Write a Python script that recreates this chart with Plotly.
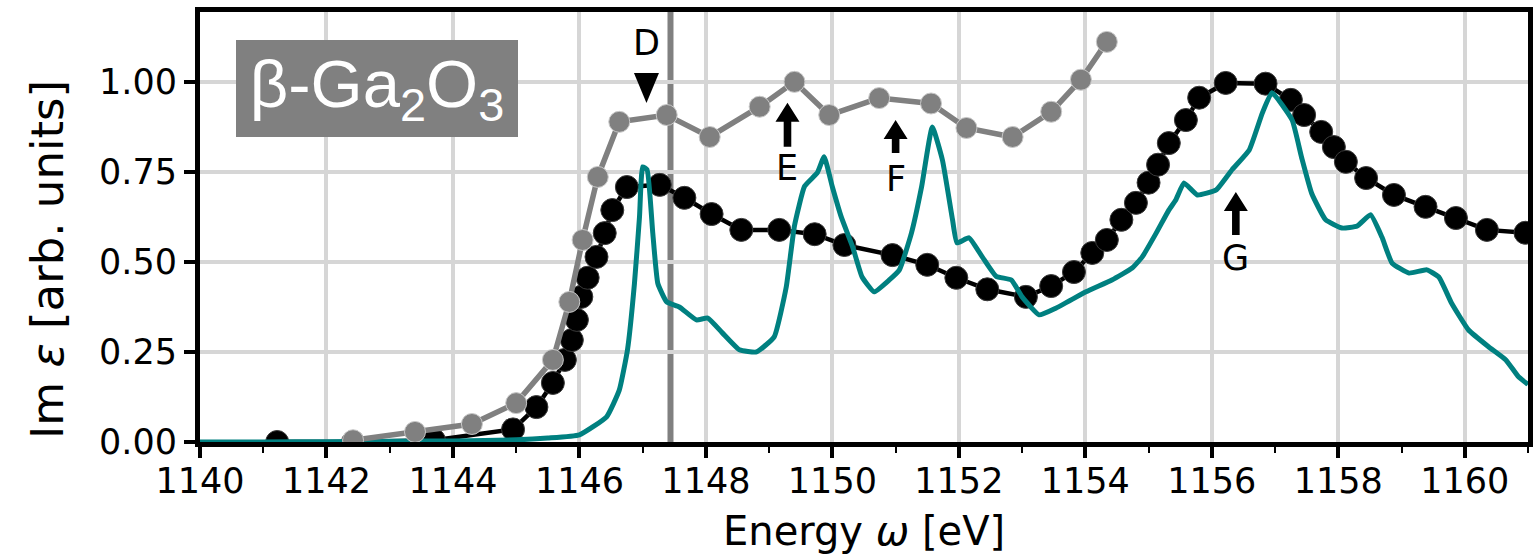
import plotly.graph_objects as go

# Measured spectrum (black), second measured spectrum (gray), calculated spectrum (teal)
black_energy = [1141.22, 1142.42, 1143.70, 1144.95, 1145.32, 1145.58, 1145.77, 1145.88,
                1145.96, 1146.03, 1146.13, 1146.27, 1146.40, 1146.52, 1146.75, 1147.27,
                1147.66, 1148.09, 1148.56, 1149.16, 1149.72, 1150.19, 1150.95, 1151.50,
                1151.96, 1152.45, 1153.06, 1153.46, 1153.82, 1154.11, 1154.34, 1154.57,
                1154.80, 1155.00, 1155.15, 1155.32, 1155.59, 1155.80, 1156.22, 1156.85,
                1157.25, 1157.46, 1157.73, 1157.93, 1158.12, 1158.44, 1158.88, 1159.38,
                1159.86, 1160.35, 1160.96]
black_imeps = [0.000, 0.000, 0.005, 0.035, 0.097, 0.164, 0.228, 0.283,
               0.339, 0.403, 0.456, 0.514, 0.580, 0.644, 0.708, 0.714,
               0.678, 0.633, 0.589, 0.589, 0.577, 0.547, 0.519, 0.492,
               0.456, 0.424, 0.403, 0.433, 0.472, 0.525, 0.561, 0.617,
               0.664, 0.720, 0.770, 0.830, 0.894, 0.956, 0.997, 0.995,
               0.950, 0.908, 0.861, 0.819, 0.778, 0.733, 0.686, 0.653,
               0.622, 0.589, 0.581]

gray_energy = [1142.42, 1143.40, 1144.30, 1145.00, 1145.58, 1145.84, 1146.05, 1146.29,
               1146.63, 1147.38, 1148.06, 1148.85, 1149.40, 1149.95, 1150.74, 1151.56,
               1152.12, 1152.85, 1153.46, 1153.93, 1154.34]
gray_imeps = [0.005, 0.028, 0.050, 0.108, 0.228, 0.389, 0.561, 0.736,
              0.889, 0.908, 0.847, 0.931, 1.000, 0.908, 0.955, 0.940,
              0.872, 0.847, 0.917, 1.006, 1.111]

teal_energy = [1140.00, 1141.00, 1142.00, 1143.00, 1144.00, 1145.00, 1145.50, 1146.00,
               1146.43, 1146.63, 1146.76, 1146.87, 1146.95, 1147.00, 1147.07, 1147.16,
               1147.24, 1147.38, 1147.58, 1147.85, 1148.03, 1148.26, 1148.53, 1148.80,
               1149.08, 1149.27, 1149.40, 1149.56, 1149.76, 1149.87, 1150.00, 1150.14,
               1150.32, 1150.47, 1150.66, 1150.90, 1151.06, 1151.25, 1151.41, 1151.58,
               1151.74, 1151.90, 1151.97, 1152.16, 1152.37, 1152.59, 1152.83, 1153.00,
               1153.27, 1153.54, 1154.01, 1154.42, 1154.74, 1154.90, 1155.12, 1155.32,
               1155.43, 1155.56, 1155.77, 1156.07, 1156.32, 1156.59, 1156.80, 1156.95,
               1157.27, 1157.42, 1157.58, 1157.80, 1158.06, 1158.30, 1158.51, 1158.69,
               1158.85, 1159.12, 1159.40, 1159.59, 1159.79, 1160.06, 1160.38, 1160.65,
               1160.85, 1161.00]
teal_imeps = [0.000, 0.000, 0.001, 0.002, 0.003, 0.006, 0.011, 0.020,
              0.070, 0.144, 0.256, 0.440, 0.625, 0.764, 0.756, 0.580,
              0.440, 0.389, 0.375, 0.339, 0.344, 0.303, 0.256, 0.250,
              0.292, 0.430, 0.600, 0.710, 0.747, 0.792, 0.708, 0.625,
              0.542, 0.458, 0.417, 0.450, 0.478, 0.580, 0.708, 0.875,
              0.783, 0.617, 0.553, 0.567, 0.514, 0.460, 0.450, 0.403,
              0.353, 0.372, 0.417, 0.450, 0.483, 0.514, 0.580, 0.644,
              0.672, 0.719, 0.686, 0.700, 0.756, 0.810, 0.914, 0.970,
              0.894, 0.790, 0.690, 0.617, 0.594, 0.600, 0.631, 0.569,
              0.497, 0.469, 0.478, 0.458, 0.386, 0.311, 0.264, 0.228,
              0.181, 0.160]

# Feature markers: D (triangle) and E, F, G (arrows)
d_energy, d_level, d_label_level = 1147.06, 0.983, 1.108
arrow_labels = ["E", "F", "G"]
arrow_energy = [1149.29, 1151.00, 1156.38]
arrow_tip = [0.942, 0.894, 0.694]
arrow_length_px = [44, 33, 43]
arrow_text = [0.762, 0.730, 0.510]
edge_energy = 1147.44

x_ticks = [1140, 1142, 1144, 1146, 1148, 1150, 1152, 1154, 1156, 1158, 1160]
y_ticks = [0.0, 0.25, 0.5, 0.75, 1.0]
y_ticktext = ["0.00", "0.25", "0.50", "0.75", "1.00"]

TICK_FONT = dict(family="DejaVu Sans", size=35, color="black")

fig = go.Figure()

fig.add_trace(go.Scatter(
    x=black_energy, y=black_imeps, mode="lines+markers",
    line=dict(color="black", width=4.5),
    marker=dict(color="black", size=23, line=dict(color="#3a3a3a", width=1)),
    showlegend=False))

fig.add_trace(go.Scatter(
    x=teal_energy, y=teal_imeps, mode="lines",
    line=dict(color="#008080", width=5, shape="spline", smoothing=0.4),
    showlegend=False))

fig.add_trace(go.Scatter(
    x=gray_energy, y=gray_imeps, mode="lines+markers",
    line=dict(color="#808080", width=5.5),
    marker=dict(color="#808080", size=21, line=dict(color="#c8c8c8", width=1)),
    showlegend=False))

# Vertical reference line
fig.add_shape(type="line", xref="x", yref="paper", x0=edge_energy, x1=edge_energy,
              y0=0, y1=1, line=dict(color="#808080", width=6), layer="between")

# D: filled downward triangle with its letter above
fig.add_shape(type="path", xref="x", yref="y", xsizemode="pixel", ysizemode="pixel",
              xanchor=d_energy, yanchor=d_level,
              path="M-12.5,15 L12.5,15 L0,-15 Z",
              fillcolor="black", line=dict(width=0), layer="above")
fig.add_annotation(x=d_energy, y=d_label_level, text="D", showarrow=False,
                   font=TICK_FONT, xref="x", yref="y")

# E, F, G: upward arrows with letters below
for lab, xe, tip, length, ty in zip(arrow_labels, arrow_energy, arrow_tip,
                                    arrow_length_px, arrow_text):
    arrow_path = (f"M0,0 L12,-19 L3.8,-19 L3.8,-{length} "
                  f"L-3.8,-{length} L-3.8,-19 L-12,-19 Z")
    fig.add_shape(type="path", xref="x", yref="y", xsizemode="pixel", ysizemode="pixel",
                  xanchor=xe, yanchor=tip, path=arrow_path,
                  fillcolor="black", line=dict(width=0), layer="above")
    fig.add_annotation(x=xe, y=ty, text=lab, showarrow=False, font=TICK_FONT,
                       xref="x", yref="y")

# Material label box
fig.add_annotation(
    xref="paper", yref="paper", x=(236 - 200) / 1328, y=(442 - 40) / 430,
    xanchor="left", yanchor="top", width=282, height=97,
    text="β-Ga<sub>2</sub>O<sub>3</sub>", showarrow=False,
    bgcolor="#808080", borderpad=0, borderwidth=0, align="center", valign="middle",
    font=dict(family="Liberation Sans, Arial, sans-serif", size=67, color="white"))

# Axis titles
fig.add_annotation(xref="paper", yref="paper", x=0.5, y=(442 - 531) / 430,
                   xanchor="center", yanchor="middle", showarrow=False,
                   text="Energy <i>ω</i> [eV]",
                   font=dict(family="DejaVu Sans", size=40, color="black"))
fig.add_annotation(xref="paper", yref="paper", x=(47 - 200) / 1328, y=(442 - 260) / 430,
                   xanchor="center", yanchor="middle", showarrow=False, textangle=-90,
                   text="Im <i>ε</i> [arb. units]",
                   font=dict(family="DejaVu Sans", size=45, color="black"))

fig.update_layout(
    width=1539, height=556,
    margin=dict(l=200, r=11, t=12, b=114, autoexpand=False),
    paper_bgcolor="white", plot_bgcolor="white",
    font=dict(family="DejaVu Sans", color="black"),
)

fig.update_xaxes(
    range=[1140, 1161], tickvals=x_ticks, ticks="outside", ticklen=11, tickwidth=4,
    tickcolor="black", tickfont=TICK_FONT, showgrid=True, gridcolor="#d6d6d6", gridwidth=3.5,
    showline=True, linecolor="black", linewidth=5, mirror=True, zeroline=False,
    automargin=False, ticklabelstandoff=-7,
    minor=dict(dtick=1, tick0=1141, ticks="outside", ticklen=6, tickwidth=2,
               tickcolor="black", showgrid=False),
)

fig.update_yaxes(
    range=[0, 1.194], tickvals=y_ticks, ticktext=y_ticktext, ticks="outside", ticklen=11,
    tickwidth=4, tickcolor="black", tickfont=TICK_FONT, showgrid=True, gridcolor="#d6d6d6",
    gridwidth=3.5, showline=True, linecolor="black", linewidth=5, mirror=True,
    zeroline=False, automargin=False,
)

fig.write_html("out.html")
